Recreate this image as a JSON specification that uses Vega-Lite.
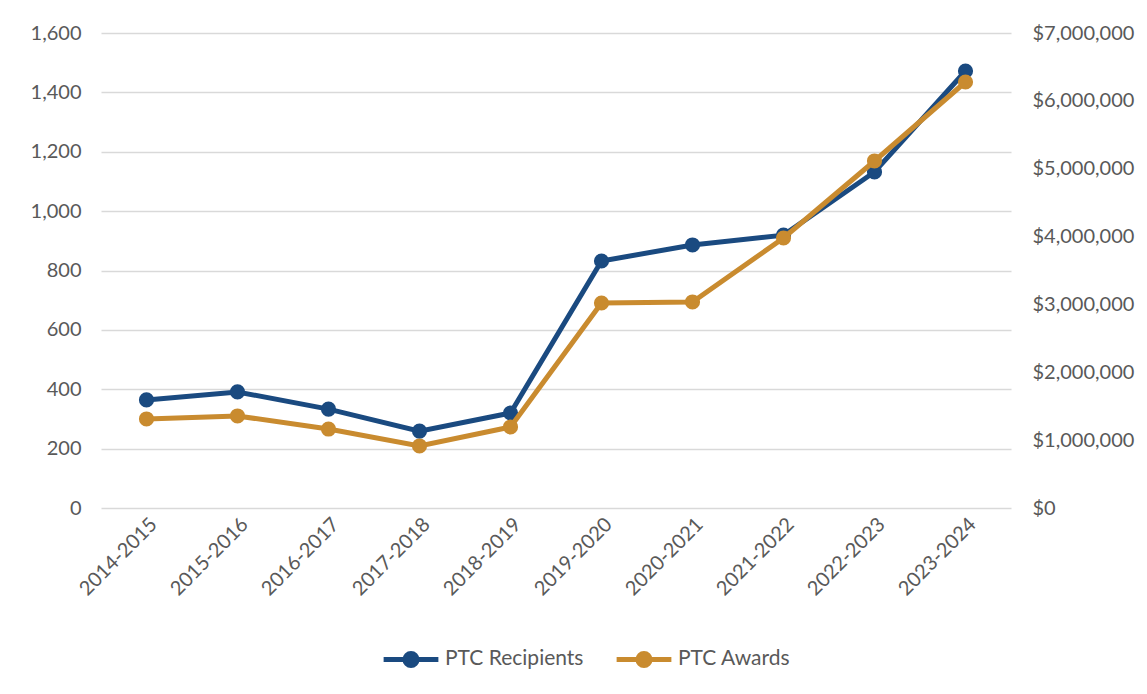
{
  "$schema": "https://vega.github.io/schema/vega-lite/v6.json",
  "autosize": "none",
  "width": 910,
  "height": 475,
  "padding": {"left": 101, "top": 33, "right": 136, "bottom": 186},
  "background": "white",
  "config": {
    "font": "Lato",
    "view": {"stroke": null},
    "axis": {"labelFont": "Lato", "labelFontSize": 20, "labelColor": "#595959", "ticks": false, "domain": false, "title": null}
  },
  "data": {
    "values": [
      {"period": "2014-2015", "recipients": 364, "awards": 1312000},
      {"period": "2015-2016", "recipients": 391, "awards": 1356000},
      {"period": "2016-2017", "recipients": 333, "awards": 1164000},
      {"period": "2017-2018", "recipients": 259, "awards": 914000},
      {"period": "2018-2019", "recipients": 320, "awards": 1194000},
      {"period": "2019-2020", "recipients": 832, "awards": 3021000},
      {"period": "2020-2021", "recipients": 886, "awards": 3036000},
      {"period": "2021-2022", "recipients": 919, "awards": 3979000},
      {"period": "2022-2023", "recipients": 1132, "awards": 5114000},
      {"period": "2023-2024", "recipients": 1472, "awards": 6278000}
    ]
  },
  "encoding": {
    "x": {"field": "period", "type": "ordinal", "sort": null,
      "axis": {"labelAngle": -45, "grid": false, "labelPadding": 6, "domain": false}}
  },
  "layer": [
    {
      "mark": {"type": "line", "strokeWidth": 5, "point": {"size": 230, "filled": true}},
      "encoding": {
        "y": {"field": "recipients", "type": "quantitative",
          "scale": {"domain": [0, 1600]},
          "axis": {"orient": "left", "values": [0, 200, 400, 600, 800, 1000, 1200, 1400, 1600], "format": ",.0f", "grid": true, "gridColor": "#d9d9d9", "gridWidth": 1.5, "labelPadding": 20}},
        "color": {"datum": "PTC Recipients", "type": "nominal",
          "scale": {"domain": ["PTC Recipients", "PTC Awards"], "range": ["#1a4a80", "#c98b2f"]},
          "legend": {
            "orient": "none", "legendX": 280, "legendY": 596, "direction": "horizontal", "title": null,
            "labelFont": "Lato", "labelFontSize": 21, "labelColor": "#595959",
            "symbolType": "M-1,0L1,0M0.22,0A0.22,0.22,0,1,1,-0.22,0A0.22,0.22,0,1,1,0.22,0",
            "symbolSize": 3000, "symbolStrokeWidth": 5, "labelOffset": 4, "columnPadding": 22,
            "encode": {"symbols": {"update": {"fill": {"signal": "scale('color', datum.value)"}}}}
          }}
      }
    },
    {
      "mark": {"type": "line", "strokeWidth": 5, "point": {"size": 230, "filled": true}},
      "encoding": {
        "y": {"field": "awards", "type": "quantitative",
          "scale": {"domain": [0, 7000000]},
          "axis": {"orient": "right", "values": [0, 1000000, 2000000, 3000000, 4000000, 5000000, 6000000, 7000000], "format": "$,.0f", "grid": false, "labelPadding": 21}},
        "color": {"datum": "PTC Awards", "type": "nominal"}
      }
    }
  ],
  "resolve": {"scale": {"y": "independent"}}
}
